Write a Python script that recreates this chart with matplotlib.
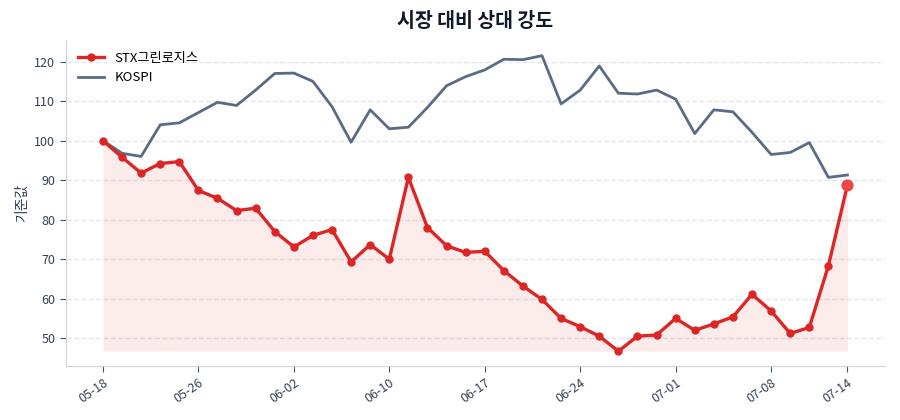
import numpy as np
import matplotlib
matplotlib.use("Agg")
import matplotlib.pyplot as plt

plt.rcParams["font.family"] = ["Noto Sans CJK KR", "DejaVu Sans"]

# trading days (MM-DD)
dates = [
    "05-18", "05-19", "05-20", "05-21", "05-22", "05-26", "05-27", "05-28", "05-29", "06-01",
    "06-02", "06-04", "06-05", "06-08", "06-09", "06-10", "06-11", "06-12", "06-15", "06-16",
    "06-17", "06-18", "06-19", "06-22", "06-23", "06-24", "06-25", "06-26", "06-29", "06-30",
    "07-01", "07-02", "07-03", "07-06", "07-07", "07-08", "07-09", "07-10", "07-13", "07-14",
]

stock = [
    100.0, 95.8, 91.8, 94.2, 94.7, 87.4, 85.4, 82.3, 82.9, 77.0,
    73.1, 76.0, 77.5, 69.3, 73.7, 70.0, 90.7, 78.0, 73.4, 71.7,
    72.0, 67.1, 63.2, 59.8, 55.0, 52.9, 50.5, 46.7, 50.5, 50.8,
    55.0, 52.0, 53.6, 55.4, 61.1, 56.9, 51.2, 52.7, 68.3, 88.8,
]

kospi = [
    100.0, 96.8, 96.0, 104.0, 104.5, 107.1, 109.7, 108.9, 112.8, 117.0,
    117.1, 115.0, 108.6, 99.6, 107.8, 103.0, 103.4, 108.4, 113.9, 116.2,
    117.9, 120.6, 120.5, 121.5, 109.3, 112.8, 118.9, 112.0, 111.8, 112.8,
    110.5, 101.8, 107.8, 107.3, 102.1, 96.5, 97.0, 99.5, 90.7, 91.3,
]

red = "#dc2626"
slate = "#5b6b85"

x = np.arange(len(dates))
stock = np.array(stock)

fig = plt.figure(figsize=(9, 4.2), dpi=100)
ax = fig.add_axes([0.073, 0.129, 0.910, 0.776])

ax.fill_between(x, stock, stock.min(), color=red, alpha=0.09, linewidth=0)
ax.plot(x, stock, color=red, linewidth=2.4, marker="o", markersize=5,
        label="STX그린로지스", zorder=3)
ax.plot(x, kospi, color=slate, linewidth=2.0, label="KOSPI", zorder=2)
ax.scatter([x[-1]], [stock[-1]], s=60, color="#ef4444", zorder=4)

ticks = list(range(0, len(dates), 5)) + [len(dates) - 1]
ax.set_xticks(ticks)
ax.set_xticklabels([dates[i] for i in ticks], rotation=35, ha="right",
                   rotation_mode="anchor")
ax.set_yticks([50, 60, 70, 80, 90, 100, 110, 120])
ax.set_xlim(-1.95, len(dates) - 1 + 1.95)
ax.set_ylim(43.0, 125.5)

ax.grid(axis="y", linestyle="--", color="#e5e7eb", linewidth=1.0)
ax.set_axisbelow(True)
for side in ("top", "right"):
    ax.spines[side].set_visible(False)
for side in ("left", "bottom"):
    ax.spines[side].set_color("#d1d5db")
ax.tick_params(colors="#475569", labelsize=9, length=4)
ax.tick_params(axis="both", labelcolor="#334155")

ax.set_ylabel("기준값", fontsize=10, color="#334155")
ax.set_title("시장 대비 상대 강도", fontsize=14, fontweight="bold",
             color="#111827", pad=9)
ax.legend(loc="upper left", frameon=False, fontsize=9.5)

fig.savefig("out.png", dpi=100)
